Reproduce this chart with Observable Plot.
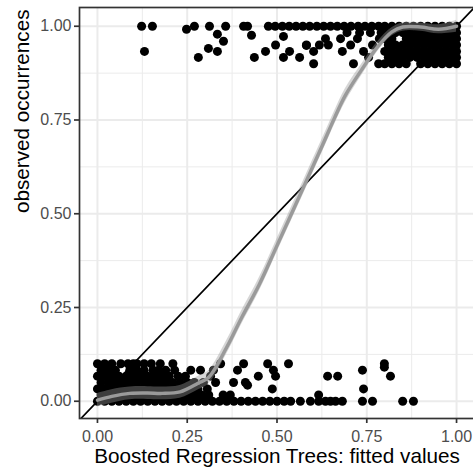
<!DOCTYPE html>
<html>
<head>
<meta charset="utf-8">
<script src="https://cdn.jsdelivr.net/npm/d3@7"></script>
<script src="https://cdn.jsdelivr.net/npm/@observablehq/plot@0.6"></script>
<style>
  html, body { margin: 0; padding: 0; background: #fff; }
</style>
</head>
<body>
<div id="chart"></div>
<script>
// Calibration plot: observed presence/absence (jittered) against BRT fitted values.

const xTicks = [0, 0.25, 0.5, 0.75, 1];
const yTicks = [0, 0.25, 0.5, 0.75, 1];
const xMinor = [0.125, 0.375, 0.625, 0.875];
const yMinor = [0.125, 0.375, 0.625, 0.875];

// Presences (observed = 1, jittered downwards): fitted values for each jittered level
const presentAt1000 = [0.123, 0.153, 0.270, 0.312, 0.357, 0.407, 0.418, 0.476, 0.495, 0.515, 0.534,
  0.553, 0.572, 0.591, 0.611, 0.630, 0.649, 0.668, 0.687, 0.706, 0.726, 0.745, 0.764, 0.783,
  0.80, 0.82, 0.84, 0.86, 0.88, 0.90, 0.92, 0.94, 0.96, 0.98, 1.00];
const presentAt0983 = [0.695, 0.730, 0.760, 0.79, 0.81, 0.83, 0.85, 0.87, 0.89, 0.91, 0.93, 0.95, 0.97, 0.99, 1.00];
const presentAt0967 = [0.635, 0.677, 0.724, 0.785, 0.80, 0.82, 0.86, 0.88, 0.90, 0.92, 0.94, 0.96, 0.98, 1.00];
const presentAt0950 = [0.496, 0.582, 0.618, 0.643, 0.705, 0.766, 0.81, 0.83, 0.85, 0.87, 0.89, 0.91, 0.93, 0.95, 0.97, 0.99, 1.00];
const presentAt0933 = [0.131, 0.334, 0.468, 0.535, 0.602, 0.682, 0.741, 0.80, 0.82, 0.84, 0.86, 0.88, 0.90, 0.92, 0.94, 0.96, 0.98, 1.00];
const presentAt0917 = [0.281, 0.437, 0.518, 0.563, 0.755, 0.81, 0.83, 0.85, 0.87, 0.89, 0.91, 0.93, 0.95, 0.97, 0.99, 1.00];
const presentAt0900 = [0.602, 0.713, 0.783, 0.80, 0.82, 0.84, 0.86, 0.90, 0.92, 0.94, 0.96, 0.98, 1.00];
const presentScatter = [[0.248, 0.992], [0.334, 0.979], [0.351, 0.960], [0.309, 0.941],
  [0.429, 0.976], [0.518, 0.973], [0.582, 0.949]];

// Absences (observed = 0, jittered upwards): fitted values for each jittered level
const absentAt0000 = [0.00, 0.02, 0.04, 0.06, 0.08, 0.10, 0.12, 0.14, 0.16, 0.18, 0.20, 0.22, 0.24,
  0.26, 0.28, 0.30, 0.32, 0.34, 0.36, 0.38, 0.40, 0.42, 0.44, 0.46, 0.48, 0.50, 0.52,
  0.538, 0.565, 0.593, 0.616, 0.635, 0.649, 0.663, 0.682, 0.738, 0.766, 0.850, 0.880];
const absentAt0017 = [0.01, 0.03, 0.05, 0.07, 0.09, 0.11, 0.13, 0.15, 0.17, 0.19, 0.21, 0.23, 0.25,
  0.27, 0.29, 0.31, 0.35, 0.37, 0.616];
const absentAt0033 = [0.00, 0.02, 0.04, 0.06, 0.08, 0.10, 0.12, 0.14, 0.16, 0.18, 0.20, 0.22, 0.24,
  0.26, 0.28, 0.306, 0.487, 0.741];
const absentAt0050 = [0.01, 0.03, 0.05, 0.07, 0.09, 0.11, 0.13, 0.15, 0.17, 0.19, 0.21, 0.23, 0.25,
  0.27, 0.295, 0.329, 0.379, 0.412];
const absentAt0067 = [0.00, 0.02, 0.04, 0.06, 0.08, 0.10, 0.12, 0.14, 0.16, 0.18, 0.20, 0.225, 0.245,
  0.315, 0.448, 0.496, 0.641, 0.669, 0.816];
const absentAt0083 = [0.01, 0.03, 0.05, 0.09, 0.11, 0.13, 0.155, 0.17, 0.19, 0.215, 0.26, 0.287,
  0.323, 0.390, 0.490, 0.738];
const absentAt0100 = [0.00, 0.02, 0.04, 0.065, 0.085, 0.10, 0.11, 0.13, 0.15, 0.175, 0.21, 0.343,
  0.407, 0.474, 0.532, 0.799];
const absentScatter = [[0.418, 0.043], [0.799, 0.091]];

// Smoothed fit with its confidence band
const smoothX  = [0, 0.04, 0.09, 0.14, 0.18, 0.23, 0.28, 0.31, 0.36, 0.40, 0.45, 0.50, 0.574, 0.63, 0.66, 0.69, 0.74, 0.78, 0.82, 0.85, 0.90, 0.95, 1.0];
const smoothY  = [0.003, 0.013, 0.021, 0.022, 0.021, 0.025, 0.048, 0.064, 0.144, 0.22, 0.31, 0.415, 0.571, 0.69, 0.755, 0.815, 0.89, 0.945, 0.985, 0.998, 0.998, 0.992, 1.0];
const smoothLo = [-0.015, -0.005, 0.004, 0.005, 0.004, 0.008, 0.03, 0.046, 0.126, 0.202, 0.292, 0.397, 0.553, 0.672, 0.737, 0.797, 0.875, 0.932, 0.974, 0.987, 0.987, 0.980, 0.984];
const smoothHi = [0.021, 0.031, 0.038, 0.039, 0.038, 0.042, 0.066, 0.082, 0.162, 0.238, 0.328, 0.433, 0.589, 0.708, 0.773, 0.833, 0.905, 0.958, 0.996, 1.009, 1.009, 1.004, 1.016];

// Ends of the 1:1 reference line
const identityEnds = [-0.05, 1.05];

const xTitle = "Boosted Regression Trees: fitted values";
const yTitle = "observed occurrences";

const rows = [
  [1.000, presentAt1000], [0.983, presentAt0983], [0.967, presentAt0967], [0.950, presentAt0950],
  [0.933, presentAt0933], [0.917, presentAt0917], [0.900, presentAt0900],
  [0.000, absentAt0000], [0.017, absentAt0017], [0.033, absentAt0033], [0.050, absentAt0050],
  [0.067, absentAt0067], [0.083, absentAt0083], [0.100, absentAt0100]
];
const points = rows
  .flatMap(([y, xs]) => xs.map(x => ({x, y})))
  .concat(presentScatter.concat(absentScatter).map(([x, y]) => ({x, y})));

const smooth = smoothX.map((x, i) => ({x, y: smoothY[i], lo: smoothLo[i], hi: smoothHi[i]}));

const fmt = d3.format(".2f");
const grid = "#ebebeb";

const chart = Plot.plot({
  width: 473,
  height: 470,
  marginTop: 7,
  marginBottom: 52,
  marginLeft: 79,
  marginRight: -1,
  style: {fontFamily: "'Liberation Sans', Arial, Helvetica, sans-serif", background: "#fff"},
  x: {domain: [-0.05, 1.05]},
  y: {domain: [-0.046, 1.05]},
  marks: [
    Plot.gridX(xMinor, {stroke: grid, strokeOpacity: 1, strokeWidth: 1}),
    Plot.gridY(yMinor, {stroke: grid, strokeOpacity: 1, strokeWidth: 1}),
    Plot.gridX(xTicks, {stroke: grid, strokeOpacity: 1, strokeWidth: 2}),
    Plot.gridY(yTicks, {stroke: grid, strokeOpacity: 1, strokeWidth: 2}),
    Plot.dot(points, {x: "x", y: "y", r: 4.5, fill: "black", stroke: "none"}),
    Plot.line(identityEnds, {x: d => d, y: d => d, stroke: "black", strokeWidth: 1.7, clip: true}),
    Plot.areaY(smooth, {x: "x", y1: "lo", y2: "hi", fill: "#999", fillOpacity: 0.4, curve: "catmull-rom"}),
    Plot.line(smooth, {x: "x", y: "y", stroke: "#9a9a9a", strokeWidth: 3.5, curve: "catmull-rom"}),
    Plot.frame({stroke: "#333", strokeWidth: 1.7}),
    Plot.axisX({ticks: xTicks, tickFormat: fmt, tickSize: 5, tickPadding: 7, fontSize: 16,
                stroke: "#333", strokeWidth: 1.7, fill: "#4d4d4d", label: null}),
    Plot.axisY({ticks: yTicks, tickFormat: fmt, tickSize: 5, tickPadding: 3, fontSize: 16,
                stroke: "#333", strokeWidth: 1.7, fill: "#4d4d4d", label: null}),
    Plot.text([xTitle], {text: d => d, frameAnchor: "bottom", dy: 44, fontSize: 20.7, fill: "black"}),
    Plot.text([yTitle], {text: d => d, frameAnchor: "left", rotate: -90, dx: -57.6, fontSize: 20.7, fill: "black"})
  ]
});

document.getElementById("chart").appendChild(chart);
</script>
</body>
</html>
